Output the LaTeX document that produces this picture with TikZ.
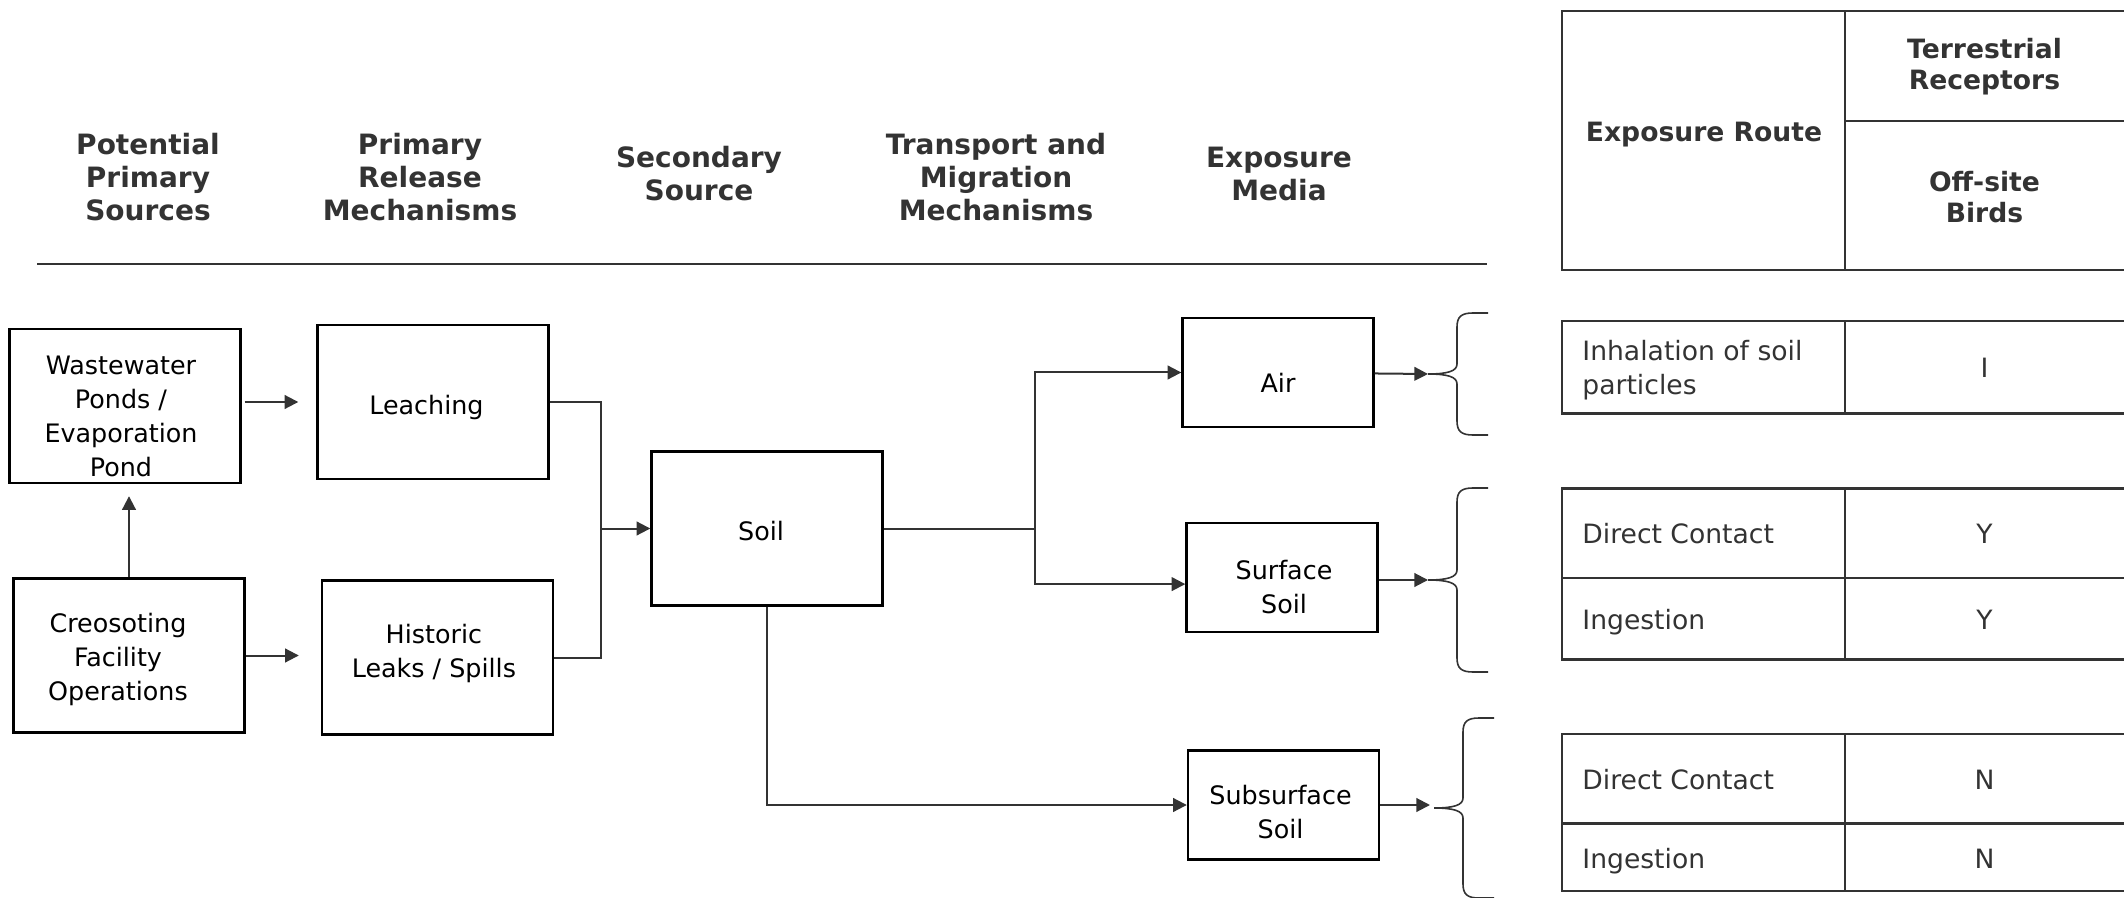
\documentclass[tikz,border=0pt]{standalone}
\usepackage{fontspec}
\setmainfont{DejaVu Sans}
\usetikzlibrary{arrows.meta,positioning}
\definecolor{ink}{HTML}{333333}
\newcommand{\sidebrace}[3]{%
  \draw[brc] (#1+60,#2-#3) -- (#1+45,#2-#3)
    .. controls (#1+33,#2-#3) and (#1+29,#2-#3+4) .. (#1+29,#2-#3+14)
    -- (#1+29,#2-10)
    .. controls (#1+29,#2-3) and (#1+20,#2) .. (#1,#2)
    .. controls (#1+20,#2) and (#1+29,#2+3) .. (#1+29,#2+10)
    -- (#1+29,#2+#3-14)
    .. controls (#1+29,#2+#3-4) and (#1+33,#2+#3) .. (#1+45,#2+#3)
    -- (#1+60,#2+#3);}

\begin{document}
\begin{tikzpicture}[x=0.5pt,y=-0.5pt,
  head/.style={text=ink,align=center,font=\fontsize{14}{16.5}\selectfont\bfseries},
  thead/.style={text=ink,align=center,font=\fontsize{13.3}{15.5}\selectfont\bfseries},
  box/.style={draw,line width=1.2pt,minimum width=115.5pt,minimum height=77pt},
  media/.style={box,minimum width=95.5pt,minimum height=54.5pt},
  btxt/.style={align=center,inner sep=0pt,font=\fontsize{12.7}{17}\selectfont},
  cell/.style={text=ink,align=left,anchor=west,inner sep=0pt,text height=9.6pt,text depth=0pt,font=\fontsize{13.3}{17}\selectfont},
  val/.style={cell,anchor=center,align=center},
  link/.style={draw=ink,line width=1pt},
  arr/.style={link,-{Triangle[length=6.8pt,width=6.8pt]}},
  rule/.style={draw=ink,line width=1.3pt},
  brc/.style={draw=ink,line width=0.8pt}]
\useasboundingbox (0,0) rectangle (2124,898);
\clip (0,0) rectangle (2124,898);

\node[head] (h1) at (148,177) {Potential\\Primary\\Sources};
\node[head] (h2) at (420,177) {Primary\\Release\\Mechanisms};
\node[head] (h3) at (699,174) {Secondary\\Source};
\node[head] (h4) at (996,177) {Transport and\\Migration\\Mechanisms};
\node[head] (h5) at (1279,174) {Exposure\\Media};
\draw[link] (37,264) -- (1487,264);

\node[box] (ww) at (125,406) {};
\node[btxt] (ww-t) at ([xshift=-2pt,yshift=-5.4pt]ww.center) {Wastewater\\Ponds /\\Evaporation\\Pond};
\node[box] (cr) at (129,655.5) {};
\node[btxt] (cr-t) at ([xshift=-5.5pt,yshift=-2pt]cr.center) {Creosoting\\Facility\\Operations};
\node[box] (lch) at (433,402) {};
\node[btxt] (lch-t) at ([xshift=-3.3pt,yshift=-2.7pt]lch.center) {Leaching};
\node[box] (his) at (437.5,657.5) {};
\node[btxt] (his-t) at ([xshift=-1.8pt,yshift=2pt]his.center) {Historic\\Leaks / Spills};
\node[box] (soil) at (767,528.5) {};
\node[btxt] (soil-t) at ([xshift=-3pt,yshift=-1.4pt]soil.center) {Soil};
\node[media] (air) at (1278,372.5) {};
\node[btxt] (air-t) at ([yshift=-5.4pt]air.center) {Air};
\node[media] (surf) at (1282,577.5) {};
\node[btxt] (surf-t) at ([xshift=1pt,yshift=-4.7pt]surf.center) {Surface\\Soil};
\node[media] (sub) at (1283.5,805) {};
\node[btxt] (sub-t) at ([xshift=-1.5pt,yshift=-3.4pt]sub.center) {Subsurface\\Soil};

\coordinate (jl) at (601,528.5);
\coordinate (jr) at (1035,528.5);
\coordinate (t1) at (1428,374);
\coordinate (t2) at (1428,580);
\coordinate (t3) at (1434,808);

\draw[arr,shorten >=9pt] ([xshift=1.5pt]ww.east|-lch) -- (lch);
\draw[arr,shorten >=11pt] (cr.east) -- (cr.east-|his.west);
\draw[arr,shorten >=6pt] (cr) -- (cr|-ww.south);
\draw[link] (lch) -| (jl);
\draw[link] (his) -| (jl);
\draw[arr] (jl) -- (soil);
\draw[link] (soil) -- (jr);
\draw[arr] (jr) |- (air);
\draw[arr] (jr) |- ([yshift=-3.3pt]surf.west);
\draw[arr] (soil) |- (sub);
\draw[arr] (air) -- (t1);
\draw[arr] (surf.east|-t2) -- (t2);
\draw[arr,shorten >=2pt] (sub.east) -- (sub.east-|t3);

\sidebrace{1428}{374}{61}
\sidebrace{1428}{580}{92}
\sidebrace{1434}{808}{90}

\draw[rule] (1562,11) rectangle (2150,270) (1845,11) -- (1845,270) (1845,121) -- (2150,121);
\draw[rule] (1562,321) rectangle (2150,413.5) (1845,321) -- (1845,413.5);
\draw[rule] (1562,488.5) rectangle (2150,659.5) (1845,488.5) -- (1845,659.5) (1562,578) -- (2150,578);
\draw[rule] (1562,734) rectangle (2150,891) (1845,734) -- (1845,891) (1562,823.5) -- (2150,823.5);

\node[thead] (er) at (1704,135) {Exposure Route};
\node[thead] (tr) at (1984.5,67) {Terrestrial\\Receptors};
\node[thead] (ob) at (1984.5,197) {Off-site\\Birds};
\node[cell,text height=26.6pt] (c1) at (1582,368) {Inhalation of soil\\particles};
\node[val] (v1) at (1984.5,368) {I};
\node[cell] (c2) at (1582,534) {Direct Contact};
\node[val] (v2) at (1984.5,534) {Y};
\node[cell] (c3) at (1582,620) {Ingestion};
\node[val] (v3) at (1984.5,620) {Y};
\node[cell] (c4) at (1582,780) {Direct Contact};
\node[val] (v4) at (1984.5,780) {N};
\node[cell] (c5) at (1582,859) {Ingestion};
\node[val] (v5) at (1984.5,859) {N};
\end{tikzpicture}
\end{document}
